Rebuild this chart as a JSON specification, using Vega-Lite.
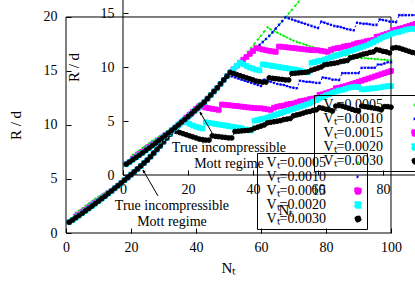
{
"$schema":"https://vega.github.io/schema/vega-lite/v6.json",
"width":349,"height":233,
"autosize":{"type":"none"},
"padding":{"left":66,"top":0,"right":0,"bottom":58},
"background":"white",
"config":{"view":{"stroke":null},"font":"Liberation Serif","text":{"font":"Liberation Serif"}},
"datasets":{"d":[
{"s":"0.0005","n":1,"r":1.00},{"s":"0.0005","n":2,"r":1.40},{"s":"0.0005","n":3,"r":1.86},{"s":"0.0005","n":4,"r":2.07},{"s":"0.0005","n":5,"r":2.28},{"s":"0.0005","n":6,"r":2.50},{"s":"0.0005","n":7,"r":2.72},{"s":"0.0005","n":8,"r":2.94},{"s":"0.0005","n":9,"r":3.17},{"s":"0.0005","n":10,"r":3.35},
{"s":"0.0005","n":11,"r":3.53},{"s":"0.0005","n":12,"r":3.71},{"s":"0.0005","n":13,"r":3.90},{"s":"0.0005","n":14,"r":4.09},{"s":"0.0005","n":15,"r":4.29},{"s":"0.0005","n":16,"r":4.48},{"s":"0.0005","n":17,"r":4.68},{"s":"0.0005","n":18,"r":4.89},{"s":"0.0005","n":19,"r":5.14},{"s":"0.0005","n":20,"r":5.40},
{"s":"0.0005","n":21,"r":5.66},{"s":"0.0005","n":22,"r":5.93},{"s":"0.0005","n":23,"r":6.20},{"s":"0.0005","n":24,"r":6.47},{"s":"0.0005","n":25,"r":6.74},{"s":"0.0005","n":26,"r":7.07},{"s":"0.0005","n":27,"r":7.40},{"s":"0.0005","n":28,"r":7.74},{"s":"0.0005","n":29,"r":8.07},{"s":"0.0005","n":30,"r":8.44},
{"s":"0.0005","n":31,"r":8.80},{"s":"0.0005","n":32,"r":9.15},{"s":"0.0005","n":33,"r":9.50},{"s":"0.0005","n":34,"r":9.80},{"s":"0.0005","n":35,"r":10.11},{"s":"0.0005","n":36,"r":10.40},{"s":"0.0005","n":37,"r":10.68},{"s":"0.0005","n":38,"r":10.94},{"s":"0.0005","n":39,"r":11.21},{"s":"0.0005","n":40,"r":11.48},
{"s":"0.0005","n":41,"r":11.75},{"s":"0.0005","n":42,"r":12.03},{"s":"0.0005","n":43,"r":12.31},{"s":"0.0005","n":44,"r":12.59},{"s":"0.0005","n":45,"r":12.88},{"s":"0.0005","n":46,"r":13.21},{"s":"0.0005","n":47,"r":13.56},{"s":"0.0005","n":48,"r":13.90},{"s":"0.0005","n":49,"r":14.25},{"s":"0.0005","n":50,"r":14.60},
{"s":"0.0005","n":51,"r":14.95},{"s":"0.0005","n":52,"r":15.31},{"s":"0.0005","n":53,"r":15.67},{"s":"0.0005","n":54,"r":16.03},{"s":"0.0005","n":55,"r":16.40},{"s":"0.0005","n":56,"r":16.77},{"s":"0.0005","n":57,"r":17.14},{"s":"0.0005","n":58,"r":17.52},{"s":"0.0005","n":59,"r":17.90},{"s":"0.0005","n":60,"r":18.28},
{"s":"0.0005","n":61,"r":18.66},{"s":"0.0005","n":62,"r":19.05},{"s":"0.0005","n":63,"r":18.85},{"s":"0.0005","n":64,"r":18.70},{"s":"0.0005","n":65,"r":18.55},{"s":"0.0005","n":66,"r":18.40},{"s":"0.0005","n":67,"r":18.25},{"s":"0.0005","n":68,"r":18.10},{"s":"0.0005","n":69,"r":17.95},{"s":"0.0005","n":70,"r":17.80},
{"s":"0.0005","n":71,"r":17.70},{"s":"0.0005","n":72,"r":17.60},{"s":"0.0005","n":73,"r":17.50},{"s":"0.0005","n":74,"r":17.40},{"s":"0.0005","n":75,"r":17.30},{"s":"0.0005","n":76,"r":17.20},{"s":"0.0005","n":77,"r":17.10},{"s":"0.0005","n":78,"r":17.00},{"s":"0.0005","n":79,"r":16.90},{"s":"0.0005","n":80,"r":16.85},
{"s":"0.0005","n":81,"r":16.75},{"s":"0.0005","n":82,"r":16.70},{"s":"0.0005","n":83,"r":16.60},{"s":"0.0005","n":84,"r":16.55},{"s":"0.0005","n":85,"r":16.50},{"s":"0.0005","n":86,"r":16.45},{"s":"0.0005","n":87,"r":16.40},{"s":"0.0005","n":88,"r":16.35},{"s":"0.0005","n":89,"r":16.30},{"s":"0.0005","n":90,"r":16.25},
{"s":"0.0005","n":91,"r":16.20},{"s":"0.0005","n":92,"r":16.20},{"s":"0.0005","n":93,"r":16.15},{"s":"0.0005","n":94,"r":16.15},{"s":"0.0005","n":95,"r":16.10},{"s":"0.0005","n":96,"r":16.10},{"s":"0.0005","n":97,"r":16.05},{"s":"0.0005","n":98,"r":16.05},{"s":"0.0005","n":99,"r":16.00},{"s":"0.0005","n":100,"r":16.00},
{"s":"0.0010","n":1,"r":1.00},{"s":"0.0010","n":2,"r":1.30},{"s":"0.0010","n":3,"r":1.63},{"s":"0.0010","n":4,"r":1.84},{"s":"0.0010","n":5,"r":2.05},{"s":"0.0010","n":6,"r":2.27},{"s":"0.0010","n":7,"r":2.49},{"s":"0.0010","n":8,"r":2.71},{"s":"0.0010","n":9,"r":2.94},{"s":"0.0010","n":10,"r":3.15},
{"s":"0.0010","n":11,"r":3.35},{"s":"0.0010","n":12,"r":3.56},{"s":"0.0010","n":13,"r":3.77},{"s":"0.0010","n":14,"r":3.99},{"s":"0.0010","n":15,"r":4.21},{"s":"0.0010","n":16,"r":4.43},{"s":"0.0010","n":17,"r":4.65},{"s":"0.0010","n":18,"r":4.89},{"s":"0.0010","n":19,"r":5.14},{"s":"0.0010","n":20,"r":5.40},
{"s":"0.0010","n":21,"r":5.66},{"s":"0.0010","n":22,"r":5.93},{"s":"0.0010","n":23,"r":6.20},{"s":"0.0010","n":24,"r":6.47},{"s":"0.0010","n":25,"r":6.74},{"s":"0.0010","n":26,"r":7.07},{"s":"0.0010","n":27,"r":7.40},{"s":"0.0010","n":28,"r":7.74},{"s":"0.0010","n":29,"r":8.07},{"s":"0.0010","n":30,"r":8.44},
{"s":"0.0010","n":31,"r":8.80},{"s":"0.0010","n":32,"r":9.15},{"s":"0.0010","n":33,"r":9.50},{"s":"0.0010","n":34,"r":9.80},{"s":"0.0010","n":35,"r":10.11},{"s":"0.0010","n":36,"r":10.40},{"s":"0.0010","n":37,"r":10.68},{"s":"0.0010","n":38,"r":10.94},{"s":"0.0010","n":39,"r":11.21},{"s":"0.0010","n":40,"r":11.48},
{"s":"0.0010","n":41,"r":11.75},{"s":"0.0010","n":42,"r":12.03},{"s":"0.0010","n":43,"r":12.31},{"s":"0.0010","n":44,"r":12.59},{"s":"0.0010","n":45,"r":12.88},{"s":"0.0010","n":46,"r":13.21},{"s":"0.0010","n":47,"r":13.56},{"s":"0.0010","n":48,"r":13.90},{"s":"0.0010","n":49,"r":14.25},{"s":"0.0010","n":50,"r":14.60},
{"s":"0.0010","n":51,"r":14.50},{"s":"0.0010","n":52,"r":14.40},{"s":"0.0010","n":53,"r":14.30},{"s":"0.0010","n":54,"r":14.20},{"s":"0.0010","n":55,"r":14.10},{"s":"0.0010","n":56,"r":14.00},{"s":"0.0010","n":57,"r":13.90},{"s":"0.0010","n":58,"r":13.80},{"s":"0.0010","n":59,"r":13.70},{"s":"0.0010","n":60,"r":13.60},
{"s":"0.0010","n":61,"r":14.20},{"s":"0.0010","n":62,"r":14.10},{"s":"0.0010","n":63,"r":14.00},{"s":"0.0010","n":64,"r":13.90},{"s":"0.0010","n":65,"r":13.80},{"s":"0.0010","n":66,"r":13.75},{"s":"0.0010","n":67,"r":13.70},{"s":"0.0010","n":68,"r":13.60},{"s":"0.0010","n":69,"r":13.50},{"s":"0.0010","n":70,"r":13.45},
{"s":"0.0010","n":71,"r":13.40},{"s":"0.0010","n":72,"r":14.10},{"s":"0.0010","n":73,"r":14.05},{"s":"0.0010","n":74,"r":14.00},{"s":"0.0010","n":75,"r":14.00},{"s":"0.0010","n":76,"r":13.95},{"s":"0.0010","n":77,"r":13.90},{"s":"0.0010","n":78,"r":13.90},{"s":"0.0010","n":79,"r":14.40},{"s":"0.0010","n":80,"r":14.35},
{"s":"0.0010","n":81,"r":14.30},{"s":"0.0010","n":82,"r":14.20},{"s":"0.0010","n":83,"r":14.20},{"s":"0.0010","n":84,"r":14.15},{"s":"0.0010","n":85,"r":14.80},{"s":"0.0010","n":86,"r":14.80},{"s":"0.0010","n":87,"r":14.80},{"s":"0.0010","n":88,"r":14.80},{"s":"0.0010","n":89,"r":14.80},{"s":"0.0010","n":90,"r":14.80},
{"s":"0.0010","n":91,"r":15.30},{"s":"0.0010","n":92,"r":15.30},{"s":"0.0010","n":93,"r":15.30},{"s":"0.0010","n":94,"r":15.30},{"s":"0.0010","n":95,"r":15.30},{"s":"0.0010","n":96,"r":15.60},{"s":"0.0010","n":97,"r":15.60},{"s":"0.0010","n":98,"r":15.70},{"s":"0.0010","n":99,"r":15.80},{"s":"0.0010","n":100,"r":15.80},
{"s":"0.0015","n":1,"r":1.00},{"s":"0.0015","n":2,"r":1.20},{"s":"0.0015","n":3,"r":1.51},{"s":"0.0015","n":4,"r":1.72},{"s":"0.0015","n":5,"r":1.93},{"s":"0.0015","n":6,"r":2.15},{"s":"0.0015","n":7,"r":2.37},{"s":"0.0015","n":8,"r":2.59},{"s":"0.0015","n":9,"r":2.82},{"s":"0.0015","n":10,"r":3.00},
{"s":"0.0015","n":11,"r":3.23},{"s":"0.0015","n":12,"r":3.46},{"s":"0.0015","n":13,"r":3.70},{"s":"0.0015","n":14,"r":3.89},{"s":"0.0015","n":15,"r":4.14},{"s":"0.0015","n":16,"r":4.38},{"s":"0.0015","n":17,"r":4.63},{"s":"0.0015","n":18,"r":4.89},{"s":"0.0015","n":19,"r":5.14},{"s":"0.0015","n":20,"r":5.40},
{"s":"0.0015","n":21,"r":5.66},{"s":"0.0015","n":22,"r":5.93},{"s":"0.0015","n":23,"r":6.20},{"s":"0.0015","n":24,"r":6.47},{"s":"0.0015","n":25,"r":6.74},{"s":"0.0015","n":26,"r":7.07},{"s":"0.0015","n":27,"r":7.40},{"s":"0.0015","n":28,"r":7.74},{"s":"0.0015","n":29,"r":8.07},{"s":"0.0015","n":30,"r":8.44},
{"s":"0.0015","n":31,"r":8.80},{"s":"0.0015","n":32,"r":9.15},{"s":"0.0015","n":33,"r":9.50},{"s":"0.0015","n":34,"r":9.80},{"s":"0.0015","n":35,"r":10.11},{"s":"0.0015","n":36,"r":10.40},{"s":"0.0015","n":37,"r":10.68},{"s":"0.0015","n":38,"r":10.94},{"s":"0.0015","n":39,"r":11.21},{"s":"0.0015","n":40,"r":11.48},
{"s":"0.0015","n":41,"r":11.75},{"s":"0.0015","n":42,"r":11.70},{"s":"0.0015","n":43,"r":11.62},{"s":"0.0015","n":44,"r":11.55},{"s":"0.0015","n":45,"r":11.50},{"s":"0.0015","n":46,"r":11.45},{"s":"0.0015","n":47,"r":11.40},{"s":"0.0015","n":48,"r":11.90},{"s":"0.0015","n":49,"r":11.87},{"s":"0.0015","n":50,"r":11.84},
{"s":"0.0015","n":51,"r":11.80},{"s":"0.0015","n":52,"r":11.77},{"s":"0.0015","n":53,"r":11.74},{"s":"0.0015","n":54,"r":11.70},{"s":"0.0015","n":55,"r":11.67},{"s":"0.0015","n":56,"r":11.63},{"s":"0.0015","n":57,"r":11.60},{"s":"0.0015","n":58,"r":11.57},{"s":"0.0015","n":59,"r":11.55},{"s":"0.0015","n":60,"r":11.55},
{"s":"0.0015","n":61,"r":11.50},{"s":"0.0015","n":62,"r":11.45},{"s":"0.0015","n":63,"r":11.40},{"s":"0.0015","n":64,"r":11.60},{"s":"0.0015","n":65,"r":11.70},{"s":"0.0015","n":66,"r":11.75},{"s":"0.0015","n":67,"r":11.80},{"s":"0.0015","n":68,"r":11.90},{"s":"0.0015","n":69,"r":11.95},{"s":"0.0015","n":70,"r":12.00},
{"s":"0.0015","n":71,"r":12.10},{"s":"0.0015","n":72,"r":12.20},{"s":"0.0015","n":73,"r":12.25},{"s":"0.0015","n":74,"r":12.30},{"s":"0.0015","n":75,"r":12.40},{"s":"0.0015","n":76,"r":12.45},{"s":"0.0015","n":77,"r":12.50},{"s":"0.0015","n":78,"r":12.80},{"s":"0.0015","n":79,"r":12.85},{"s":"0.0015","n":80,"r":12.95},
{"s":"0.0015","n":81,"r":13.05},{"s":"0.0015","n":82,"r":13.15},{"s":"0.0015","n":83,"r":13.40},{"s":"0.0015","n":84,"r":13.45},{"s":"0.0015","n":85,"r":13.55},{"s":"0.0015","n":86,"r":13.60},{"s":"0.0015","n":87,"r":13.70},{"s":"0.0015","n":88,"r":13.80},{"s":"0.0015","n":89,"r":13.90},{"s":"0.0015","n":90,"r":14.00},
{"s":"0.0015","n":91,"r":14.10},{"s":"0.0015","n":92,"r":14.20},{"s":"0.0015","n":93,"r":14.30},{"s":"0.0015","n":94,"r":14.40},{"s":"0.0015","n":95,"r":14.50},{"s":"0.0015","n":96,"r":14.60},{"s":"0.0015","n":97,"r":14.70},{"s":"0.0015","n":98,"r":14.80},{"s":"0.0015","n":99,"r":14.90},{"s":"0.0015","n":100,"r":15.00},
{"s":"0.0020","n":1,"r":1.00},{"s":"0.0020","n":2,"r":1.20},{"s":"0.0020","n":3,"r":1.41},{"s":"0.0020","n":4,"r":1.62},{"s":"0.0020","n":5,"r":1.83},{"s":"0.0020","n":6,"r":2.05},{"s":"0.0020","n":7,"r":2.27},{"s":"0.0020","n":8,"r":2.49},{"s":"0.0020","n":9,"r":2.72},{"s":"0.0020","n":10,"r":2.95},
{"s":"0.0020","n":11,"r":3.18},{"s":"0.0020","n":12,"r":3.41},{"s":"0.0020","n":13,"r":3.65},{"s":"0.0020","n":14,"r":3.89},{"s":"0.0020","n":15,"r":4.14},{"s":"0.0020","n":16,"r":4.38},{"s":"0.0020","n":17,"r":4.63},{"s":"0.0020","n":18,"r":4.89},{"s":"0.0020","n":19,"r":5.14},{"s":"0.0020","n":20,"r":5.40},
{"s":"0.0020","n":21,"r":5.66},{"s":"0.0020","n":22,"r":5.93},{"s":"0.0020","n":23,"r":6.20},{"s":"0.0020","n":24,"r":6.47},{"s":"0.0020","n":25,"r":6.74},{"s":"0.0020","n":26,"r":7.07},{"s":"0.0020","n":27,"r":7.40},{"s":"0.0020","n":28,"r":7.74},{"s":"0.0020","n":29,"r":8.07},{"s":"0.0020","n":30,"r":8.44},
{"s":"0.0020","n":31,"r":8.80},{"s":"0.0020","n":32,"r":9.15},{"s":"0.0020","n":33,"r":9.50},{"s":"0.0020","n":34,"r":9.80},{"s":"0.0020","n":35,"r":10.11},{"s":"0.0020","n":36,"r":10.40},{"s":"0.0020","n":37,"r":10.25},{"s":"0.0020","n":38,"r":10.10},{"s":"0.0020","n":39,"r":9.95},{"s":"0.0020","n":40,"r":9.85},
{"s":"0.0020","n":41,"r":9.75},{"s":"0.0020","n":42,"r":9.68},{"s":"0.0020","n":43,"r":10.25},{"s":"0.0020","n":44,"r":10.20},{"s":"0.0020","n":45,"r":10.15},{"s":"0.0020","n":46,"r":10.10},{"s":"0.0020","n":47,"r":10.05},{"s":"0.0020","n":48,"r":10.00},{"s":"0.0020","n":49,"r":9.95},{"s":"0.0020","n":50,"r":9.90},
{"s":"0.0020","n":51,"r":9.85},{"s":"0.0020","n":52,"r":9.80},{"s":"0.0020","n":53,"r":9.75},{"s":"0.0020","n":54,"r":9.70},{"s":"0.0020","n":55,"r":9.60},{"s":"0.0020","n":56,"r":9.55},{"s":"0.0020","n":57,"r":9.50},{"s":"0.0020","n":58,"r":10.40},{"s":"0.0020","n":59,"r":10.45},{"s":"0.0020","n":60,"r":10.55},
{"s":"0.0020","n":61,"r":10.60},{"s":"0.0020","n":62,"r":10.70},{"s":"0.0020","n":63,"r":10.80},{"s":"0.0020","n":64,"r":10.90},{"s":"0.0020","n":65,"r":11.00},{"s":"0.0020","n":66,"r":11.10},{"s":"0.0020","n":67,"r":11.20},{"s":"0.0020","n":68,"r":11.30},{"s":"0.0020","n":69,"r":11.40},{"s":"0.0020","n":70,"r":11.50},
{"s":"0.0020","n":71,"r":11.60},{"s":"0.0020","n":72,"r":11.70},{"s":"0.0020","n":73,"r":11.80},{"s":"0.0020","n":74,"r":11.90},{"s":"0.0020","n":75,"r":12.00},{"s":"0.0020","n":76,"r":12.15},{"s":"0.0020","n":77,"r":12.30},{"s":"0.0020","n":78,"r":12.45},{"s":"0.0020","n":79,"r":12.60},{"s":"0.0020","n":80,"r":12.75},
{"s":"0.0020","n":81,"r":12.85},{"s":"0.0020","n":82,"r":13.00},{"s":"0.0020","n":83,"r":13.10},{"s":"0.0020","n":84,"r":13.20},{"s":"0.0020","n":85,"r":13.25},{"s":"0.0020","n":86,"r":13.35},{"s":"0.0020","n":87,"r":13.45},{"s":"0.0020","n":88,"r":13.50},{"s":"0.0020","n":89,"r":13.55},{"s":"0.0020","n":90,"r":13.50},
{"s":"0.0020","n":91,"r":13.30},{"s":"0.0020","n":92,"r":13.30},{"s":"0.0020","n":93,"r":13.35},{"s":"0.0020","n":94,"r":13.40},{"s":"0.0020","n":95,"r":13.40},{"s":"0.0020","n":96,"r":13.45},{"s":"0.0020","n":97,"r":13.50},{"s":"0.0020","n":98,"r":13.55},{"s":"0.0020","n":99,"r":13.60},{"s":"0.0020","n":100,"r":13.60},
{"s":"0.0030","n":1,"r":1.00},{"s":"0.0030","n":2,"r":1.20},{"s":"0.0030","n":3,"r":1.41},{"s":"0.0030","n":4,"r":1.62},{"s":"0.0030","n":5,"r":1.83},{"s":"0.0030","n":6,"r":2.05},{"s":"0.0030","n":7,"r":2.27},{"s":"0.0030","n":8,"r":2.49},{"s":"0.0030","n":9,"r":2.72},{"s":"0.0030","n":10,"r":2.95},
{"s":"0.0030","n":11,"r":3.18},{"s":"0.0030","n":12,"r":3.41},{"s":"0.0030","n":13,"r":3.65},{"s":"0.0030","n":14,"r":3.89},{"s":"0.0030","n":15,"r":4.14},{"s":"0.0030","n":16,"r":4.38},{"s":"0.0030","n":17,"r":4.63},{"s":"0.0030","n":18,"r":4.89},{"s":"0.0030","n":19,"r":5.14},{"s":"0.0030","n":20,"r":5.40},
{"s":"0.0030","n":21,"r":5.66},{"s":"0.0030","n":22,"r":5.93},{"s":"0.0030","n":23,"r":6.20},{"s":"0.0030","n":24,"r":6.47},{"s":"0.0030","n":25,"r":6.74},{"s":"0.0030","n":26,"r":7.07},{"s":"0.0030","n":27,"r":7.40},{"s":"0.0030","n":28,"r":7.74},{"s":"0.0030","n":29,"r":8.07},{"s":"0.0030","n":30,"r":8.44},
{"s":"0.0030","n":31,"r":8.80},{"s":"0.0030","n":32,"r":9.15},{"s":"0.0030","n":33,"r":9.50},{"s":"0.0030","n":34,"r":9.40},{"s":"0.0030","n":35,"r":9.30},{"s":"0.0030","n":36,"r":9.20},{"s":"0.0030","n":37,"r":9.10},{"s":"0.0030","n":38,"r":9.00},{"s":"0.0030","n":39,"r":8.90},{"s":"0.0030","n":40,"r":8.80},
{"s":"0.0030","n":41,"r":8.70},{"s":"0.0030","n":42,"r":8.65},{"s":"0.0030","n":43,"r":8.60},{"s":"0.0030","n":44,"r":8.60},{"s":"0.0030","n":45,"r":9.00},{"s":"0.0030","n":46,"r":8.95},{"s":"0.0030","n":47,"r":8.92},{"s":"0.0030","n":48,"r":8.88},{"s":"0.0030","n":49,"r":8.85},{"s":"0.0030","n":50,"r":8.80},
{"s":"0.0030","n":51,"r":8.80},{"s":"0.0030","n":52,"r":9.40},{"s":"0.0030","n":53,"r":9.42},{"s":"0.0030","n":54,"r":9.45},{"s":"0.0030","n":55,"r":9.48},{"s":"0.0030","n":56,"r":9.50},{"s":"0.0030","n":57,"r":9.55},{"s":"0.0030","n":58,"r":9.70},{"s":"0.0030","n":59,"r":9.80},{"s":"0.0030","n":60,"r":9.90},
{"s":"0.0030","n":61,"r":10.00},{"s":"0.0030","n":62,"r":10.20},{"s":"0.0030","n":63,"r":10.25},{"s":"0.0030","n":64,"r":10.30},{"s":"0.0030","n":65,"r":10.35},{"s":"0.0030","n":66,"r":10.40},{"s":"0.0030","n":67,"r":10.50},{"s":"0.0030","n":68,"r":10.55},{"s":"0.0030","n":69,"r":10.60},{"s":"0.0030","n":70,"r":10.85},
{"s":"0.0030","n":71,"r":10.93},{"s":"0.0030","n":72,"r":11.00},{"s":"0.0030","n":73,"r":11.10},{"s":"0.0030","n":74,"r":11.20},{"s":"0.0030","n":75,"r":11.25},{"s":"0.0030","n":76,"r":11.35},{"s":"0.0030","n":77,"r":11.40},{"s":"0.0030","n":78,"r":11.60},{"s":"0.0030","n":79,"r":11.55},{"s":"0.0030","n":80,"r":11.45},
{"s":"0.0030","n":81,"r":11.40},{"s":"0.0030","n":82,"r":11.30},{"s":"0.0030","n":83,"r":11.75},{"s":"0.0030","n":84,"r":11.80},{"s":"0.0030","n":85,"r":11.75},{"s":"0.0030","n":86,"r":11.65},{"s":"0.0030","n":87,"r":11.55},{"s":"0.0030","n":88,"r":11.45},{"s":"0.0030","n":89,"r":11.35},{"s":"0.0030","n":90,"r":11.30},
{"s":"0.0030","n":91,"r":11.75},{"s":"0.0030","n":92,"r":11.70},{"s":"0.0030","n":93,"r":11.65},{"s":"0.0030","n":94,"r":11.60},{"s":"0.0030","n":95,"r":11.55},{"s":"0.0030","n":96,"r":11.50},{"s":"0.0030","n":97,"r":11.40},{"s":"0.0030","n":98,"r":11.70},{"s":"0.0030","n":99,"r":11.70},{"s":"0.0030","n":100,"r":11.65}
]},
"layer":[
{"layer":[
 {"data":{"name":"d"},"mark":{"type":"line","strokeWidth":1},"encoding":{
   "x":{"field":"n","type":"quantitative","scale":{"domain":[0,107.385],"nice":false,"zero":false},"axis":{"orient":"bottom","values":[0,20,40,60,80,100],"domain":false,"grid":false,"tickSize":-5,"tickColor":"black","labelPadding":12,"labelFont":"Liberation Serif","labelFontSize":14,"labelColor":"black","labelFlush":false,"labelOverlap":false,"title":"Nₜ","titleFont":"Liberation Serif","titleFontSize":15,"titleFontWeight":"normal","titleColor":"black","titleX":162.5,"titleY":39,"titleBaseline":"alphabetic","titleAlign":"center"}},
   "y":{"field":"r","type":"quantitative","scale":{"domain":[0,21.574],"nice":false,"zero":false},"axis":{"orient":"left","values":[0,5,10,15,20],"domain":false,"grid":false,"tickSize":-5,"tickColor":"black","labelPadding":14,"labelFont":"Liberation Serif","labelFontSize":14,"labelColor":"black","labelFlush":false,"labelOverlap":false,"title":"R / d","titleFont":"Liberation Serif","titleFontSize":15,"titleFontWeight":"normal","titleColor":"black","titleX":-51,"titleY":125,"titleAngle":-90,"titleBaseline":"middle","titleAlign":"center"}},
   "color":{"field":"s","type":"nominal","scale":{"domain":["0.0005","0.0010","0.0015","0.0020","0.0030"],"range":["#00ee00","#0000ff","#ff00ff","#00ffff","#000000"]},"legend":{"orient":"none","legendX":191,"legendY":153,"title":null,"labelExpr":"'Vₜ=' + datum.label","labelFont":"Liberation Serif","labelFontSize":14,"labelColor":"black","labelLimit":200,"labelAlign":"right","labelOffset":-39,"symbolType":"M-3,0L3,0","symbolSize":40,"symbolStrokeWidth":1,"symbolOffset":91,"rowPadding":-4.5,"padding":3,"strokeColor":"black","encode":{"symbols":{"update":{"shape":{"signal":"datum.value==='0.0005'?'M-3,0L3,0M0,-0.45L0,0.45':datum.value==='0.0010'?'M-3,0L3,0M0,-0.45L0,0.45M-0.32,-0.32L0.32,0.32M-0.32,0.32L0.32,-0.32':datum.value==='0.0030'?'M-3,0L3,0M0.3,0L0.21,0.21L0,0.3L-0.21,0.21L-0.3,0L-0.21,-0.21L0,-0.3L0.21,-0.21Z':'M-3,0L3,0M-0.3,-0.3L0.3,-0.3L0.3,0.3L-0.3,0.3Z'"},"strokeDash":{"signal":"datum.value==='0.0005'?[5,3]:datum.value==='0.0010'?[2,2]:datum.value==='0.0015'?[4,3]:datum.value==='0.0020'?[6,2,2,2]:[2,3]"},"fill":{"signal":"datum.value==='0.0015'?'#ff00ff':datum.value==='0.0020'?'#00ffff':datum.value==='0.0030'?'#000000':'transparent'"}}}}}},
   "strokeDash":{"field":"s","type":"nominal","scale":{"domain":["0.0005","0.0010","0.0015","0.0020","0.0030"],"range":[[5,3],[2,2],[4,3],[6,2,2,2],[2,3]]},"legend":null}
 }},
 {"data":{"name":"d"},"mark":{"type":"point","filled":true,"strokeWidth":1,"opacity":1,"size":22},"encoding":{
   "x":{"field":"n","type":"quantitative","scale":{"domain":[0,107.385],"nice":false,"zero":false}},
   "y":{"field":"r","type":"quantitative","scale":{"domain":[0,21.574],"nice":false,"zero":false}},
   "fill":{"field":"s","type":"nominal","scale":{"domain":["0.0005","0.0010","0.0015","0.0020","0.0030"],"range":["#00ee00","#0000ff","#ff00ff","#00ffff","#000000"]},"legend":null},
   "stroke":{"field":"s","type":"nominal","scale":{"domain":["0.0005","0.0010","0.0015","0.0020","0.0030"],"range":["#00ee00","#0000ff","#ff00ff","#00ffff","#000000"]},"legend":null},
   "shape":{"field":"s","type":"nominal","scale":{"domain":["0.0005","0.0010","0.0015","0.0020","0.0030"],"range":["M-0.55,0L0.55,0M0,-0.55L0,0.55","M-0.55,0L0.55,0M0,-0.55L0,0.55M-0.4,-0.4L0.4,0.4M-0.4,0.4L0.4,-0.4","square","square","circle"]},"legend":null}
 }},
 {"data":{"values":[{}]},"mark":{"type":"rule","color":"black","strokeWidth":1},"encoding":{"x":{"datum":0,"type":"quantitative","scale":{"domain":[0,107.385],"nice":false,"zero":false}},"y":{"datum":0,"type":"quantitative","scale":{"domain":[0,21.574],"nice":false,"zero":false}},"y2":{"datum":20}}},
 {"data":{"values":[{}]},"mark":{"type":"rule","color":"black","strokeWidth":1},"encoding":{"x":{"datum":100,"type":"quantitative","scale":{"domain":[0,107.385],"nice":false,"zero":false}},"y":{"datum":0,"type":"quantitative","scale":{"domain":[0,21.574],"nice":false,"zero":false}},"y2":{"datum":20}}},
 {"data":{"values":[{}]},"mark":{"type":"rule","color":"black","strokeWidth":1},"encoding":{"x":{"datum":0,"type":"quantitative","scale":{"domain":[0,107.385],"nice":false,"zero":false}},"x2":{"datum":100},"y":{"datum":0,"type":"quantitative","scale":{"domain":[0,21.574],"nice":false,"zero":false}}}},
 {"data":{"values":[{}]},"mark":{"type":"rule","color":"black","strokeWidth":1},"encoding":{"x":{"datum":0,"type":"quantitative","scale":{"domain":[0,107.385],"nice":false,"zero":false}},"x2":{"datum":100},"y":{"datum":20,"type":"quantitative","scale":{"domain":[0,21.574],"nice":false,"zero":false}}}},
 {"data":{"values":[{}]},"mark":{"type":"text","font":"Liberation Serif","fontSize":14,"align":"center","baseline":"top","lineHeight":16,"color":"black","text":["True incompressible","Mott regime"]},"encoding":{"x":{"datum":32.6,"type":"quantitative","scale":{"domain":[0,107.385],"nice":false,"zero":false}},"y":{"datum":3.15,"type":"quantitative","scale":{"domain":[0,21.574],"nice":false,"zero":false}}}},
 {"data":{"values":[{}]},"mark":{"type":"rule","color":"black","strokeWidth":1},"encoding":{"x":{"datum":28.3,"type":"quantitative","scale":{"domain":[0,107.385],"nice":false,"zero":false}},"x2":{"datum":23.7},"y":{"datum":3.43,"type":"quantitative","scale":{"domain":[0,21.574],"nice":false,"zero":false}},"y2":{"datum":5.83}}},
 {"data":{"values":[{}]},"mark":{"type":"point","shape":"M0,0L-0.45,1.5M0,0L0.45,1.5","size":16,"angle":-30,"stroke":"black","strokeWidth":1,"filled":false,"opacity":1},"encoding":{"x":{"datum":23.7,"type":"quantitative","scale":{"domain":[0,107.385],"nice":false,"zero":false}},"y":{"datum":5.83,"type":"quantitative","scale":{"domain":[0,21.574],"nice":false,"zero":false}}}}
]},
{"layer":[
 {"data":{"name":"d"},"mark":{"type":"line","strokeWidth":1},"encoding":{
   "x":{"field":"n","type":"quantitative","scale":{"domain":[-17.538,89.846],"nice":false,"zero":false},"axis":{"orient":"bottom","offset":-58,"values":[0,20,40,60,80],"domain":false,"grid":false,"tickSize":-5,"tickColor":"black","labelPadding":12,"labelFont":"Liberation Serif","labelFontSize":14,"labelColor":"black","labelFlush":false,"labelOverlap":false,"title":"Nₜ","titleFont":"Liberation Serif","titleFontSize":15,"titleFontWeight":"normal","titleColor":"black","titleX":219.5,"titleY":39,"titleBaseline":"alphabetic","titleAlign":"center"}},
   "y":{"field":"r","type":"quantitative","scale":{"domain":[-5.37,16.204],"nice":false,"zero":false},"axis":{"orient":"left","offset":-57,"values":[0,5,10,15],"domain":false,"grid":false,"tickSize":-5,"tickColor":"black","labelPadding":14,"labelFont":"Liberation Serif","labelFontSize":14,"labelColor":"black","labelFlush":false,"labelOverlap":false,"title":"R / d","titleFont":"Liberation Serif","titleFontSize":15,"titleFontWeight":"normal","titleColor":"black","titleX":-50,"titleY":67,"titleAngle":-90,"titleBaseline":"middle","titleAlign":"center"}},
   "color":{"field":"s","type":"nominal","scale":{"domain":["0.0005","0.0010","0.0015","0.0020","0.0030"],"range":["#00ee00","#0000ff","#ff00ff","#00ffff","#000000"]},"legend":{"orient":"none","legendX":248,"legendY":95,"title":null,"labelExpr":"'Vₜ=' + datum.label","labelFont":"Liberation Serif","labelFontSize":14,"labelColor":"black","labelLimit":200,"labelAlign":"right","labelOffset":-39,"symbolType":"M-3,0L3,0","symbolSize":40,"symbolStrokeWidth":1,"symbolOffset":91,"rowPadding":-4.5,"padding":3,"strokeColor":"black","encode":{"symbols":{"update":{"shape":{"signal":"datum.value==='0.0005'?'M-3,0L3,0M0,-0.45L0,0.45':datum.value==='0.0010'?'M-3,0L3,0M0,-0.45L0,0.45M-0.32,-0.32L0.32,0.32M-0.32,0.32L0.32,-0.32':datum.value==='0.0030'?'M-3,0L3,0M0.3,0L0.21,0.21L0,0.3L-0.21,0.21L-0.3,0L-0.21,-0.21L0,-0.3L0.21,-0.21Z':'M-3,0L3,0M-0.3,-0.3L0.3,-0.3L0.3,0.3L-0.3,0.3Z'"},"strokeDash":{"signal":"datum.value==='0.0005'?[5,3]:datum.value==='0.0010'?[2,2]:datum.value==='0.0015'?[4,3]:datum.value==='0.0020'?[6,2,2,2]:[2,3]"},"fill":{"signal":"datum.value==='0.0015'?'#ff00ff':datum.value==='0.0020'?'#00ffff':datum.value==='0.0030'?'#000000':'transparent'"}}}}}},
   "strokeDash":{"field":"s","type":"nominal","scale":{"domain":["0.0005","0.0010","0.0015","0.0020","0.0030"],"range":[[5,3],[2,2],[4,3],[6,2,2,2],[2,3]]},"legend":null}
 }},
 {"data":{"name":"d"},"mark":{"type":"point","filled":true,"strokeWidth":1,"opacity":1,"size":22},"encoding":{
   "x":{"field":"n","type":"quantitative","scale":{"domain":[-17.538,89.846],"nice":false,"zero":false}},
   "y":{"field":"r","type":"quantitative","scale":{"domain":[-5.37,16.204],"nice":false,"zero":false}},
   "fill":{"field":"s","type":"nominal","scale":{"domain":["0.0005","0.0010","0.0015","0.0020","0.0030"],"range":["#00ee00","#0000ff","#ff00ff","#00ffff","#000000"]},"legend":null},
   "stroke":{"field":"s","type":"nominal","scale":{"domain":["0.0005","0.0010","0.0015","0.0020","0.0030"],"range":["#00ee00","#0000ff","#ff00ff","#00ffff","#000000"]},"legend":null},
   "shape":{"field":"s","type":"nominal","scale":{"domain":["0.0005","0.0010","0.0015","0.0020","0.0030"],"range":["M-0.55,0L0.55,0M0,-0.55L0,0.55","M-0.55,0L0.55,0M0,-0.55L0,0.55M-0.4,-0.4L0.4,0.4M-0.4,0.4L0.4,-0.4","square","square","circle"]},"legend":null}
 }},
 {"data":{"values":[{}]},"mark":{"type":"rule","color":"black","strokeWidth":1},"encoding":{"x":{"datum":0,"type":"quantitative","scale":{"domain":[-17.538,89.846],"nice":false,"zero":false}},"y":{"datum":0,"type":"quantitative","scale":{"domain":[-5.37,16.204],"nice":false,"zero":false}},"y2":{"datum":20}}},
 {"data":{"values":[{}]},"mark":{"type":"rule","color":"black","strokeWidth":1},"encoding":{"x":{"datum":0,"type":"quantitative","scale":{"domain":[-17.538,89.846],"nice":false,"zero":false}},"x2":{"datum":100},"y":{"datum":0,"type":"quantitative","scale":{"domain":[-5.37,16.204],"nice":false,"zero":false}}}},
 {"data":{"values":[{}]},"mark":{"type":"text","font":"Liberation Serif","fontSize":14,"align":"center","baseline":"top","lineHeight":16,"color":"black","text":["True incompressible","Mott regime"]},"encoding":{"x":{"datum":32.6,"type":"quantitative","scale":{"domain":[-17.538,89.846],"nice":false,"zero":false}},"y":{"datum":3.15,"type":"quantitative","scale":{"domain":[-5.37,16.204],"nice":false,"zero":false}}}},
 {"data":{"values":[{}]},"mark":{"type":"rule","color":"black","strokeWidth":1},"encoding":{"x":{"datum":28.3,"type":"quantitative","scale":{"domain":[-17.538,89.846],"nice":false,"zero":false}},"x2":{"datum":23.7},"y":{"datum":3.43,"type":"quantitative","scale":{"domain":[-5.37,16.204],"nice":false,"zero":false}},"y2":{"datum":5.83}}},
 {"data":{"values":[{}]},"mark":{"type":"point","shape":"M0,0L-0.45,1.5M0,0L0.45,1.5","size":16,"angle":-30,"stroke":"black","strokeWidth":1,"filled":false,"opacity":1},"encoding":{"x":{"datum":23.7,"type":"quantitative","scale":{"domain":[-17.538,89.846],"nice":false,"zero":false}},"y":{"datum":5.83,"type":"quantitative","scale":{"domain":[-5.37,16.204],"nice":false,"zero":false}}}}
]}
],
"resolve":{"scale":{"x":"independent","y":"independent","color":"independent","strokeDash":"independent","fill":"independent","stroke":"independent","shape":"independent"},"axis":{"x":"independent","y":"independent"},"legend":{"color":"independent"}}
}
